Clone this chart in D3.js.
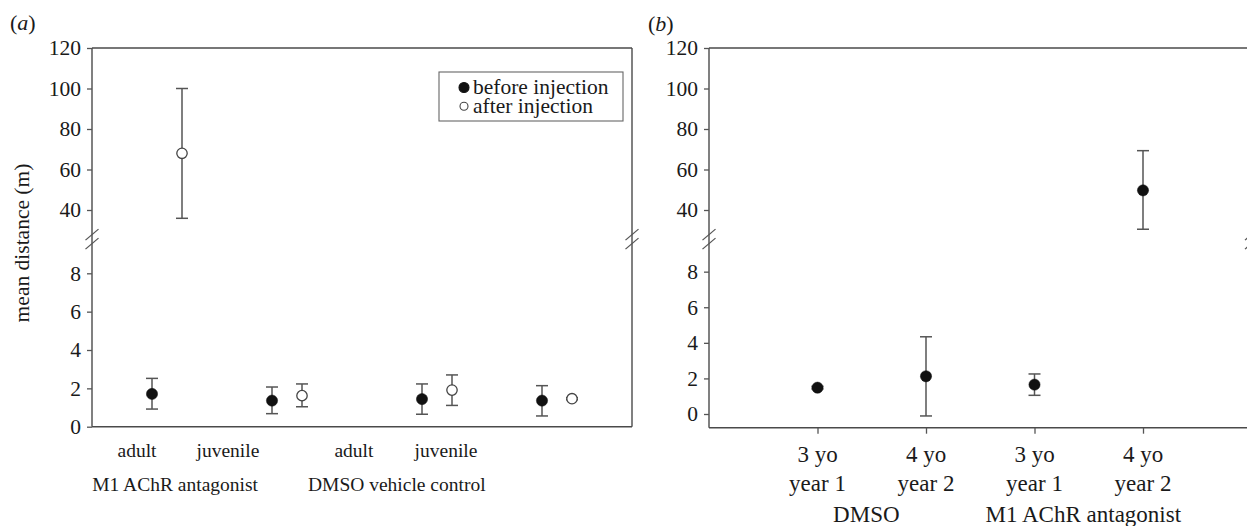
<!DOCTYPE html>
<html><head><meta charset="utf-8">
<script src="https://cdn.jsdelivr.net/npm/d3@7"></script>
<style>
body{margin:0;background:#fff}
svg text{font-family:"Liberation Serif","Times New Roman",serif !important;fill:#1a1a1a}
</style>
</head><body><svg id="c" width="1247" height="526"></svg>
<script>
// ---------------- data ----------------
const aCategories = ["adult", "juvenile", "adult", "juvenile"];
const aGroups = ["M1 AChR antagonist", "DMSO vehicle control"];
const aBeforeMean = [1.71, 1.36, 1.44, 1.36];
const aBeforeLow  = [0.92, 0.68, 0.65, 0.56];
const aBeforeHigh = [2.52, 2.07, 2.23, 2.14];
const aAfterMean  = [68.0, 1.62, 1.91, 1.46];
const aAfterLow   = [35.9, 1.04, 1.11, 1.41];
const aAfterHigh  = [100.0, 2.23, 2.70, 1.51];

const bCategories = [["3 yo", "year 1"], ["4 yo", "year 2"], ["3 yo", "year 1"], ["4 yo", "year 2"]];
const bGroups = ["DMSO", "M1 AChR antagonist"];
const bMean = [1.48, 2.12, 1.65, 49.7];
const bLow  = [1.41, -0.11, 1.05, 30.5];
const bHigh = [1.55, 4.34, 2.25, 69.3];

const upperTicks = [40, 60, 80, 100, 120];
const lowerTicks = [0, 2, 4, 6, 8];
const legendLabels = ["before injection", "after injection"];

// ---------------- layout ----------------
const SERIF = '"Liberation Serif","Times New Roman",serif';
const TOP = 48, BREAK_LO = 230.25, BREAK_HI = 248;
const upperDomain = [30, 120];
const aSlots = [2, 6, 11, 15];              // x-units of "before" points in panel a
const aLabelPos = [1.5, 4.53, 8.73, 11.8];  // category label centres (x-units)
const aGroupPos = [2.77, 10.16];
const col = {axis: "#555", frame: "#4a4a4a", err: "#555", dot: "#111"};

const svg = d3.select("#c").attr("font-family", SERIF);

function txt(g, fs) {
  return g.append("text").attr("font-family", SERIF).style("font-family", SERIF).style("font-size", fs + "px");
}

function styleAxis(sel, fs) {
  sel.attr("font-family", SERIF);
  sel.selectAll(".tick line").attr("stroke", col.axis).attr("stroke-width", 1.3);
  sel.selectAll(".tick text").attr("font-family", SERIF).style("font-family", SERIF)
    .style("font-size", fs + "px").attr("fill", "#1a1a1a");
  sel.select(".domain").remove();
}

function breakMarks(g, x) {
  const c = (BREAK_LO + BREAK_HI) / 2;
  [c - 4.5, c + 4.5].forEach(y => {
    g.append("line").attr("x1", x - 6.5).attr("y1", y + 5.5).attr("x2", x + 6.5).attr("y2", y - 5.5)
      .attr("stroke", col.axis).attr("stroke-width", 1.3);
  });
}

function frame(g, x0, x1, yBottom) {
  const l = (a, b, c, d) => g.append("line").attr("x1", a).attr("y1", b).attr("x2", c).attr("y2", d)
    .attr("stroke", col.frame).attr("stroke-width", 1.4);
  l(x0, TOP, x0, yBottom);
  l(x1, TOP, x1, yBottom);
  l(x0, TOP, x1, TOP);
  l(x0, yBottom, x1, yBottom);
  breakMarks(g, x0);
  breakMarks(g, x1);
}

function yAxes(g, x0, lower, upper) {
  g.append("g").attr("transform", `translate(${x0},0)`)
    .call(d3.axisLeft(upper).tickValues(upperTicks).tickSize(5).tickPadding(6))
    .call(s => styleAxis(s, 21.5));
  g.append("g").attr("transform", `translate(${x0},0)`)
    .call(d3.axisLeft(lower).tickValues(lowerTicks).tickSize(5).tickPadding(6))
    .call(s => styleAxis(s, 21.5));
}

function yPos(v, lower, upper) { return v >= upperDomain[0] ? upper(v) : lower(v); }

function errorBar(g, x, lo, hi, lower, upper) {
  const y1 = yPos(lo, lower, upper), y2 = yPos(hi, lower, upper);
  g.append("line").attr("x1", x).attr("x2", x).attr("y1", y1).attr("y2", y2)
    .attr("stroke", col.err).attr("stroke-width", 1.5);
  [y1, y2].forEach(y => g.append("line").attr("x1", x - 6).attr("x2", x + 6).attr("y1", y).attr("y2", y)
    .attr("stroke", col.err).attr("stroke-width", 1.5));
}
function dot(g, x, v, lower, upper, filled) {
  g.append("circle").attr("cx", x).attr("cy", yPos(v, lower, upper))
    .attr("r", filled ? 5.6 : 5.2)
    .attr("fill", filled ? col.dot : "#fff")
    .attr("stroke", filled ? col.dot : "#444").attr("stroke-width", filled ? 0.5 : 1.3);
}

// ---------------- panel a ----------------
(function () {
  const x0 = 92, x1 = 632, yBottom = 426.7;
  const g = svg.append("g");
  const x = d3.scaleLinear().domain([0, 18]).range([x0, x1]);
  const upper = d3.scaleLinear().domain(upperDomain).range([BREAK_LO, TOP]);
  const lower = d3.scaleLinear().domain([0, 9.32]).range([yBottom, BREAK_HI]);

  frame(g, x0, x1, yBottom);
  yAxes(g, x0, lower, upper);

  aSlots.forEach((s, i) => {
    errorBar(g, x(s), aBeforeLow[i], aBeforeHigh[i], lower, upper);
    dot(g, x(s), aBeforeMean[i], lower, upper, true);
    errorBar(g, x(s + 1), aAfterLow[i], aAfterHigh[i], lower, upper);
    dot(g, x(s + 1), aAfterMean[i], lower, upper, false);
  });

  aCategories.forEach((c, i) => txt(g, 19.5).attr("x", x(aLabelPos[i])).attr("y", 456.5)
    .attr("text-anchor", "middle").text(c));
  aGroups.forEach((c, i) => txt(g, 19.5).attr("x", x(aGroupPos[i])).attr("y", 491)
    .attr("text-anchor", "middle").text(c));

  // legend
  const lg = g.append("g");
  lg.append("rect").attr("x", x1 - 193).attr("y", TOP + 24).attr("width", 184).attr("height", 49)
    .attr("fill", "#fff").attr("stroke", "#666").attr("stroke-width", 1.1);
  legendLabels.forEach((t, i) => {
    const yy = TOP + 39.5 + i * 18.7;
    lg.append("circle").attr("cx", x1 - 168).attr("cy", yy).attr("r", i === 0 ? 5 : 4)
      .attr("fill", i === 0 ? col.dot : "#fff").attr("stroke", i === 0 ? col.dot : "#444").attr("stroke-width", 1.1);
    txt(lg, 21.5).attr("x", x1 - 159).attr("y", yy + 6.5).text(t);
  });

  txt(g, 21.5).attr("transform", `translate(29,243) rotate(-90)`).attr("text-anchor", "middle")
    .text("mean distance (m)");

  const pa = txt(g, 22).attr("x", 10).attr("y", 30);
  pa.append("tspan").text("(");
  pa.append("tspan").style("font-style", "italic").text("a");
  pa.append("tspan").text(")");
})();

// ---------------- panel b ----------------
(function () {
  const x0 = 709, x1 = 1251.5, yBottom = 427.7;
  const g = svg.append("g");
  const x = d3.scaleLinear().domain([0, 5]).range([x0, x1]);
  const upper = d3.scaleLinear().domain(upperDomain).range([BREAK_LO, TOP]);
  const lower = d3.scaleLinear().domain([-0.77, 9.33]).range([yBottom, BREAK_HI]);

  frame(g, x0, x1, yBottom);
  yAxes(g, x0, lower, upper);

  const idx = bCategories.map((_, i) => i + 1);
  const xa = g.append("g").attr("transform", `translate(0,${yBottom})`)
    .call(d3.axisBottom(x).tickValues(idx).tickSize(6).tickFormat(""));
  xa.selectAll(".tick line").attr("stroke", col.axis).attr("stroke-width", 1.3);
  xa.select(".domain").remove();

  bMean.forEach((m, i) => {
    errorBar(g, x(i + 1), bLow[i], bHigh[i], lower, upper);
    dot(g, x(i + 1), m, lower, upper, true);
  });

  bCategories.forEach((lines, i) => lines.forEach((t, j) =>
    txt(g, 23).attr("x", x(i + 1)).attr("y", 461.5 + j * 29)
      .attr("text-anchor", "middle").text(t)));
  bGroups.forEach((t, i) => txt(g, 23).attr("x", x(1.45 + 2 * i)).attr("y", 521.5)
    .attr("text-anchor", "middle").text(t));

  const pb = txt(g, 22).attr("x", 648).attr("y", 31);
  pb.append("tspan").text("(");
  pb.append("tspan").style("font-style", "italic").text("b");
  pb.append("tspan").text(")");
})();
</script>
</body></html>
